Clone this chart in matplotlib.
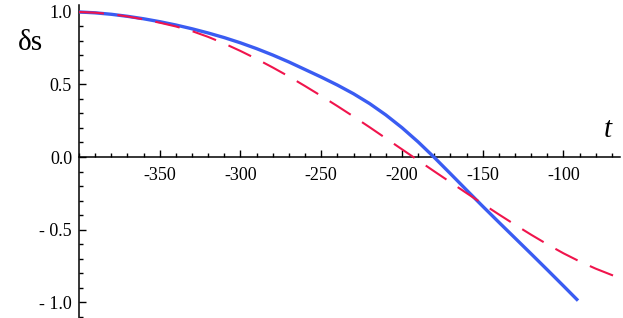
import matplotlib
matplotlib.use("Agg")
import matplotlib.pyplot as plt
from matplotlib.ticker import FixedLocator, FixedFormatter, MultipleLocator

# values
t_blue = [-400, -390, -380, -370, -360, -350, -340, -330, -320, -310, -300,
          -290, -280, -270, -260, -250, -240, -230, -220, -210, -200, -190,
          -180, -170, -160, -150, -140, -130, -120, -110, -100, -91]
s_blue = [1.000, 0.994, 0.984, 0.970, 0.953, 0.933, 0.910, 0.884, 0.855, 0.823,
          0.787, 0.747, 0.703, 0.655, 0.603, 0.551, 0.496, 0.436, 0.368, 0.290,
          0.202, 0.104, -0.003, -0.115, -0.228, -0.340, -0.450, -0.559, -0.668,
          -0.778, -0.889, -0.990]

t_red = [-400, -390, -380, -370, -360, -350, -340, -330, -320, -310, -300,
         -290, -280, -270, -260, -250, -240, -230, -220, -210, -200, -190,
         -180, -170, -160, -150, -140, -130, -120, -110, -100, -90, -80, -70, -63]
s_red = [1.000, 0.995, 0.985, 0.969, 0.949, 0.926, 0.900, 0.868, 0.828, 0.782,
         0.731, 0.676, 0.617, 0.555, 0.489, 0.421, 0.351, 0.279, 0.205, 0.129,
         0.053, -0.023, -0.099, -0.174, -0.249, -0.323, -0.396, -0.467, -0.536,
         -0.602, -0.664, -0.720, -0.770, -0.814, -0.842]

x_major = [-350, -300, -250, -200, -150, -100]
x_labels = ["-350", "-300", "-250", "-200", "-150", "-100"]
y_major = [-1.0, -0.5, 0.0, 0.5, 1.0]
y_labels = ["- 1.0", "- 0.5", "0.0", "0.5", "1.0"]

serif = ["Liberation Serif", "DejaVu Serif"]

fig = plt.figure(figsize=(6.23, 3.18), dpi=100)
ax = fig.add_axes([79 / 623, 0, 541 / 623, 313 / 318])

ax.plot(t_blue, s_blue, color="#3a5cf2", lw=2.4, solid_capstyle="butt", zorder=3)
ax.plot(t_red, s_red, color="#f0144c", lw=1.5, linestyle=(0, (12, 6.5)), zorder=4)

ax.set_xlim(-400, -65)
ax.set_ylim(-1.11, 1.048)

for side in ["top", "right"]:
    ax.spines[side].set_visible(False)
ax.spines["bottom"].set_position(("data", 0))
ax.spines["bottom"].set_linewidth(1.1)
ax.spines["left"].set_linewidth(1.1)

ax.xaxis.set_major_locator(FixedLocator(x_major))
ax.xaxis.set_major_formatter(FixedFormatter(x_labels))
ax.xaxis.set_minor_locator(MultipleLocator(10))
ax.yaxis.set_major_locator(FixedLocator(y_major))
ax.yaxis.set_major_formatter(FixedFormatter(y_labels))
ax.yaxis.set_minor_locator(MultipleLocator(0.1))

ax.tick_params(axis="x", which="major", direction="in", length=5, width=1, pad=7)
ax.tick_params(axis="x", which="minor", direction="in", length=3, width=1)
ax.tick_params(axis="y", which="major", direction="in", length=5, width=1, pad=5)
ax.tick_params(axis="y", which="minor", direction="in", length=3, width=1)

for lab in ax.get_xticklabels() + ax.get_yticklabels():
    lab.set_family(serif)
    lab.set_fontsize(13)

ax.patch.set_alpha(0)

fig.text(30 / 623, 1 - 43 / 318, "δs", family=serif, fontsize=21,
         ha="center", va="center")
fig.text(608 / 623, 1 - 130 / 318, "t", family=serif, style="italic",
         fontsize=21, ha="center", va="center")

plt.savefig("out.png", dpi=100)
